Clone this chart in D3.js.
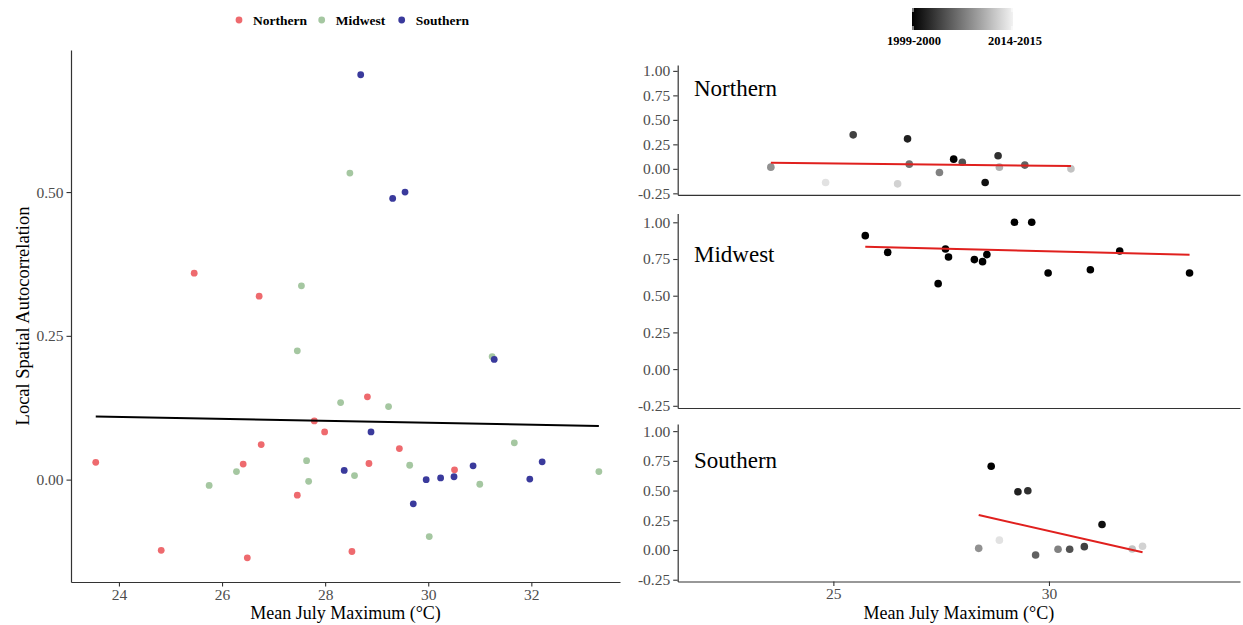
<!DOCTYPE html>
<html>
<head>
<meta charset="utf-8">
<script src="https://cdn.jsdelivr.net/npm/d3@7"></script>
<style>
  body { margin: 0; background: #fff; }
  svg { display: block; }
  text { font-family: "Liberation Serif", "Times New Roman", serif; }
</style>
</head>
<body>
<svg id="chart" width="1243" height="625"></svg>
<script>
// ---- Regions and their colours ----
const regions = ["Northern", "Midwest", "Southern"];
const regionColors = ["#EE6A6E", "#A5C7A1", "#3A3A9C"];

// ---- Left panel: local spatial autocorrelation vs. mean July maximum ----
const northTemp = [23.55, 24.82, 25.46, 26.41, 26.49, 26.72, 26.76, 27.46, 27.79, 27.99, 28.52, 28.82, 28.85, 29.44, 30.51];
const northLsa  = [0.030, -0.123, 0.359, 0.027, -0.136, 0.319, 0.061, -0.027, 0.102, 0.083, -0.125, 0.144, 0.028, 0.054, 0.017];
const midwestTemp = [25.75, 26.28, 27.46, 27.54, 27.64, 27.68, 28.30, 28.48, 28.57, 29.23, 29.64, 30.02, 31.00, 31.24, 31.67, 33.31];
const midwestLsa  = [-0.010, 0.014, 0.224, 0.337, 0.033, -0.003, 0.134, 0.533, 0.007, 0.127, 0.025, -0.099, -0.008, 0.214, 0.064, 0.014];
const southTemp = [28.37, 28.69, 28.89, 29.31, 29.55, 29.71, 29.96, 30.24, 30.50, 30.87, 31.28, 31.97, 32.21];
const southLsa  = [0.016, 0.704, 0.083, 0.489, 0.500, -0.042, 0.000, 0.003, 0.005, 0.024, 0.209, 0.001, 0.031];

// ---- Right panels: one facet per region, shaded by season ----
const seasons = ["1999-2000", "2000-2001", "2001-2002", "2002-2003", "2003-2004", "2004-2005",
                 "2005-2006", "2006-2007", "2007-2008", "2008-2009", "2009-2010", "2010-2011",
                 "2011-2012", "2012-2013", "2013-2014", "2014-2015"];

const northFacetTemp   = [23.55, 24.82, 25.46, 26.49, 26.72, 26.76, 27.46, 27.79, 27.99, 28.52, 28.82, 28.85, 29.44, 30.51];
const northFacetValue  = [0.017, -0.140, 0.347, -0.153, 0.306, 0.048, -0.038, 0.099, 0.068, -0.140, 0.133, 0.017, 0.038, 0.000];
const northFacetSeason = [9, 14, 4, 13, 2, 7, 8, 0, 5, 1, 3, 11, 6, 12];
const northFacetFit    = [[23.55, 0.063], [30.51, 0.029]];

const midwestFacetTemp   = [25.74, 26.26, 27.43, 27.60, 27.67, 28.27, 28.46, 28.56, 29.20, 29.60, 29.98, 30.96, 31.64, 33.26];
const midwestFacetValue  = [0.909, 0.795, 0.582, 0.818, 0.764, 0.746, 0.732, 0.780, 1.000, 1.000, 0.655, 0.677, 0.805, 0.655];
const midwestFacetSeason = [0, 0, 0, 0, 0, 0, 0, 0, 0, 0, 0, 0, 0, 0];
const midwestFacetFit    = [[25.74, 0.834], [33.26, 0.779]];

const southFacetTemp   = [28.37, 28.66, 28.85, 29.28, 29.51, 29.69, 30.21, 30.48, 30.82, 31.23, 31.93, 32.17];
const southFacetValue  = [0.014, 0.704, 0.083, 0.490, 0.499, -0.042, 0.006, 0.006, 0.028, 0.215, 0.008, 0.031];
const southFacetSeason = [9, 0, 14, 2, 3, 6, 8, 5, 4, 1, 12, 13];
const southFacetFit    = [[28.37, 0.294], [32.17, -0.019]];

const leftYTicks  = [0, 0.25, 0.5];
const leftXTicks  = [24, 26, 28, 30, 32];
const rightYTicks = [-0.25, 0, 0.25, 0.5, 0.75, 1];
const rightXTicks = [25, 30];

// ---- helpers ----
const svg = d3.select("#chart");
const fmt2 = d => d.toFixed(2);

// ordinary least squares line over the data's x range
function lmLine(xs, ys) {
  const mx = d3.mean(xs), my = d3.mean(ys);
  let sxy = 0, sxx = 0;
  xs.forEach((x, i) => { sxy += (x - mx) * (ys[i] - my); sxx += (x - mx) * (x - mx); });
  const b = sxy / sxx, a = my - b * mx;
  const [x0, x1] = d3.extent(xs);
  return [[x0, a + b * x0], [x1, a + b * x1]];
}

function styleAxis(g) {
  g.select(".domain").attr("stroke", "#333").attr("stroke-width", 1.2);
  g.selectAll(".tick line").attr("stroke", "#333").attr("stroke-width", 1.1);
  g.selectAll(".tick text").attr("fill", "#4d4d4d").style("font-size", "15.5px")
    .style("font-family", "'Liberation Serif', 'Times New Roman', serif");
}

const seasonShade = d3.scaleLinear()
  .domain([0, seasons.length - 1])
  .range(["#000000", "#f2f2f2"])
  .interpolate(d3.interpolateRgb);

// ================= LEFT PANEL =================
const L = { left: 71, right: 620, top: 50, bottom: 582 };
const xL = d3.scaleLinear().domain([23.07, 33.72]).range([L.left, L.right]);
const yL = d3.scaleLinear().domain([-0.178, 0.747]).range([L.bottom, L.top]);

svg.append("g").attr("transform", `translate(0,${L.bottom})`)
  .call(d3.axisBottom(xL).tickValues(leftXTicks).tickFormat(d3.format("d"))
    .tickSize(4.5).tickSizeOuter(0).tickPadding(2))
  .call(styleAxis);
svg.append("g").attr("transform", `translate(${L.left},0)`)
  .call(d3.axisLeft(yL).tickValues(leftYTicks).tickFormat(fmt2)
    .tickSize(4.5).tickSizeOuter(0).tickPadding(3))
  .call(styleAxis);

const leftSeries = [
  { temp: northTemp, lsa: northLsa },
  { temp: midwestTemp, lsa: midwestLsa },
  { temp: southTemp, lsa: southLsa }
];
leftSeries.forEach((s, k) => {
  svg.append("g").selectAll("circle")
    .data(s.temp.map((t, i) => [t, s.lsa[i]]))
    .join("circle")
    .attr("cx", d => xL(d[0])).attr("cy", d => yL(d[1]))
    .attr("r", 3.4).attr("fill", regionColors[k]);
});

// pooled regression line across all regions
const allTemp = [].concat(northTemp, midwestTemp, southTemp);
const allLsa = [].concat(northLsa, midwestLsa, southLsa);
svg.append("path")
  .datum(lmLine(allTemp, allLsa))
  .attr("d", d3.line().x(d => xL(d[0])).y(d => yL(d[1])))
  .attr("fill", "none").attr("stroke", "#000").attr("stroke-width", 2);

svg.append("text")
  .attr("transform", `translate(23,${(L.top + L.bottom) / 2}) rotate(-90)`)
  .attr("text-anchor", "middle").attr("dominant-baseline", "central")
  .style("font-size", "18.5px").attr("fill", "#000")
  .text("Local Spatial Autocorrelation");
svg.append("text")
  .attr("x", (L.left + L.right) / 2).attr("y", 619)
  .attr("text-anchor", "middle").style("font-size", "18px")
  .text("Mean July Maximum (°C)");

// legend
const legendX = [239, 321.7, 401.7];
const legend = svg.append("g");
regions.forEach((r, k) => {
  legend.append("circle").attr("cx", legendX[k]).attr("cy", 20).attr("r", 3.4).attr("fill", regionColors[k]);
  legend.append("text").attr("x", legendX[k] + 14).attr("y", 20)
    .attr("dominant-baseline", "central")
    .style("font-size", "13.5px").style("font-weight", "bold").text(r);
});

// ================= RIGHT PANELS =================
const R = { left: 677.7, right: 1240 };
const xR = d3.scaleLinear().domain([21.39, 34.43]).range([R.left, R.right]);
const facetDomain = [-0.265, 1.06];

const facets = [
  { name: regions[0], temp: northFacetTemp, val: northFacetValue, season: northFacetSeason,
    fit: northFacetFit, top: 65, bottom: 194.8, labelY: 96, xLabels: false },
  { name: regions[1], temp: midwestFacetTemp, val: midwestFacetValue, season: midwestFacetSeason,
    fit: midwestFacetFit, top: 213.5, bottom: 408, labelY: 262.3, xLabels: false },
  { name: regions[2], temp: southFacetTemp, val: southFacetValue, season: southFacetSeason,
    fit: southFacetFit, top: 424, bottom: 581.5, labelY: 468.3, xLabels: true }
];

facets.forEach(f => {
  const y = d3.scaleLinear().domain(facetDomain).range([f.bottom, f.top]);
  const g = svg.append("g");

  const xAxis = d3.axisBottom(xR).tickValues(f.xLabels ? rightXTicks : [])
    .tickFormat(d3.format("d")).tickSize(4.5).tickSizeOuter(0).tickPadding(2);
  g.append("g").attr("transform", `translate(0,${f.bottom})`).call(xAxis).call(styleAxis);
  g.append("g").attr("transform", `translate(${R.left},0)`)
    .call(d3.axisLeft(y).tickValues(rightYTicks).tickFormat(fmt2)
      .tickSize(4.5).tickSizeOuter(0).tickPadding(3))
    .call(styleAxis);

  g.append("g").selectAll("circle")
    .data(f.temp.map((t, i) => [t, f.val[i], f.season[i]]))
    .join("circle")
    .attr("cx", d => xR(d[0])).attr("cy", d => y(d[1]))
    .attr("r", 3.8).attr("fill", d => seasonShade(d[2]));

  g.append("path")
    .datum(f.fit)
    .attr("d", d3.line().x(d => xR(d[0])).y(d => y(d[1])))
    .attr("fill", "none").attr("stroke", "#E0201E").attr("stroke-width", 2);

  g.append("text").attr("x", 694).attr("y", f.labelY)
    .style("font-size", "23px").attr("fill", "#000").text(f.name);
});

svg.append("text")
  .attr("x", (R.left + R.right) / 2).attr("y", 619)
  .attr("text-anchor", "middle").style("font-size", "18px")
  .text("Mean July Maximum (°C)");

// season colour bar
const bar = { x: 912, y: 8, w: 101, h: 22 };
const defs = svg.append("defs");
const grad = defs.append("linearGradient").attr("id", "seasonGrad");
d3.range(0, 1.0001, 0.1).forEach(t => {
  grad.append("stop").attr("offset", t)
    .attr("stop-color", seasonShade(t * (seasons.length - 1)));
});
svg.append("rect").attr("x", bar.x).attr("y", bar.y).attr("width", bar.w).attr("height", bar.h)
  .attr("fill", "url(#seasonGrad)");
[bar.x + 1, bar.x + bar.w - 1].forEach(tx => {
  svg.append("line").attr("x1", tx).attr("x2", tx).attr("y1", bar.y).attr("y2", bar.y + 4)
    .attr("stroke", "#fff").attr("stroke-width", 1);
  svg.append("line").attr("x1", tx).attr("x2", tx).attr("y1", bar.y + bar.h - 4).attr("y2", bar.y + bar.h)
    .attr("stroke", "#fff").attr("stroke-width", 1);
});
[[0, bar.x + 2], [seasons.length - 1, bar.x + bar.w + 2]].forEach(([i, tx]) => {
  svg.append("text").attr("x", tx).attr("y", 45).attr("text-anchor", "middle")
    .style("font-size", "12.5px").style("font-weight", "bold").text(seasons[i]);
});
</script>
</body>
</html>
